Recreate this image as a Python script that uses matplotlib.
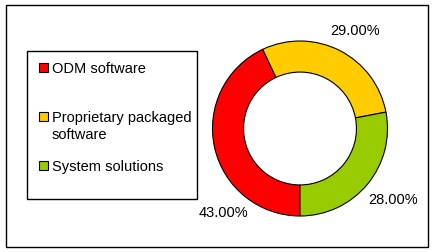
import matplotlib
matplotlib.use('Agg')
import matplotlib.pyplot as plt
from matplotlib.patches import Rectangle

plt.rcParams['font.family'] = ['Liberation Sans', 'DejaVu Sans']

categories = ['ODM software', 'Proprietary packaged\nsoftware', 'System solutions']
values = [43, 29, 28]
colors = ['#FF0000', '#FFCC00', '#99CC00']

W, H = 434, 253
fig = plt.figure(figsize=(W / 100, H / 100), dpi=100)


def fx(px):
    return px / W


def fy(py):
    return 1 - py / H


# outer frame
fig.patches.append(Rectangle((fx(6), fy(248)), fx(422), 242 / H, transform=fig.transFigure,
                             fill=False, edgecolor='black', linewidth=1))

# donut
cx, cy, r = 300, 129.5, 87.5
ax = fig.add_axes([fx(cx - r), fy(cy + r), fx(2 * r), 2 * r / H])
wedges, _ = ax.pie(values, colors=colors, startangle=270, counterclock=False, radius=1,
                   wedgeprops=dict(width=0.355, edgecolor='black', linewidth=0.8))
ax.set_xlim(-1, 1)
ax.set_ylim(-1, 1)
ax.set_aspect('equal')
ax.axis('off')

# percentage labels (Excel-style placement)
label_pos = [(-0.88, -0.955), (0.63, 1.125), (1.065, -0.805)]
for v, (lx, ly) in zip(values, label_pos):
    ax.text(lx, ly, f'{v:.2f}%', ha='center', va='center', fontsize=10.5, clip_on=False)

# legend box
fig.patches.append(Rectangle((fx(27), fy(200)), fx(170), 148 / H, transform=fig.transFigure,
                             fill=False, edgecolor='black', linewidth=1))
legend_y = [68, 117, 166]
for cat, col, y in zip(categories, colors, legend_y):
    fig.patches.append(Rectangle((fx(38.5), fy(y + 4.5)), fx(9), 9 / H, transform=fig.transFigure,
                                 facecolor=col, edgecolor='black', linewidth=0.8))
    fig.text(fx(52), fy(y - 6), cat, ha='left', va='top', fontsize=10.5, linespacing=1.3)

fig.savefig('out.png', dpi=100)
